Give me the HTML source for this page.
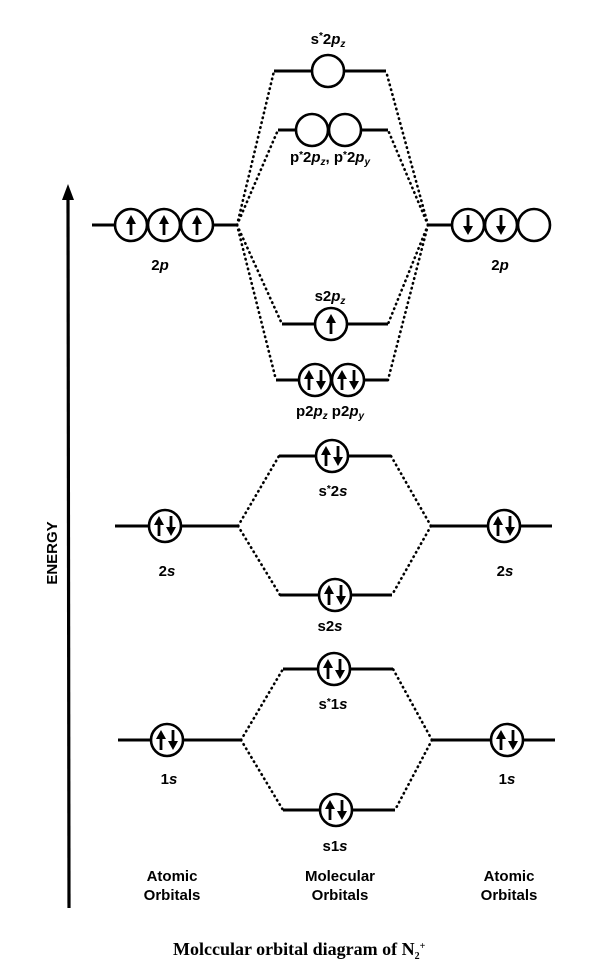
<!DOCTYPE html>
<html><head><meta charset="utf-8"><style>
html,body{margin:0;padding:0;background:#fff}
svg{display:block}
text{font-family:"Liberation Sans",sans-serif;font-weight:bold;font-size:15px;fill:#000}
.c{fill:#fff;stroke:#000;stroke-width:2.6}
.l{stroke:#000;stroke-width:3;fill:none}
.d{stroke:#000;stroke-width:2.6;stroke-dasharray:0.5 4.5;stroke-linecap:round;fill:none}
</style></head><body>
<svg width="601" height="978" viewBox="0 0 601 978">
<defs>
<g id="u"><path d="M0,10 V-4" stroke="#000" stroke-width="2.8"/><path d="M-5,-1 L0,-10 L5,-1Z" fill="#000"/></g>
<g id="dn"><path d="M0,-10 V4" stroke="#000" stroke-width="2.8"/><path d="M-5,1 L0,10 L5,1Z" fill="#000"/></g>
</defs>
<!-- axis -->
<line x1="68" y1="195" x2="69" y2="908" stroke="#000" stroke-width="3.2"/>
<path d="M62,200 L68,184 L74,200Z" fill="#000"/>
<text transform="translate(57,553) rotate(-90)" text-anchor="middle" font-size="14">ENERGY</text>

<path class="d" d="M237,225 L274,71 M237,225 L278,130 M237,225 L282,324 M237,225 L276,380"/>
<path class="d" d="M428,225 L386,71 M428,225 L388,130 M428,225 L388,324 M428,225 L388,380"/>
<path class="d" d="M238,526 L279,456 M238,526 L280,595 M431,526 L391,456 M431,526 L392,595"/>
<path class="d" d="M241,740 L283,669 M241,740 L283,810 M432,740 L393,669 M432,740 L395,810"/>

<line class="l" x1="92" y1="225" x2="237" y2="225"/>
<circle class="c" cx="131" cy="225" r="16"/><circle class="c" cx="164" cy="225" r="16"/><circle class="c" cx="197" cy="225" r="16"/>
<use href="#u" x="131" y="225"/><use href="#u" x="164" y="225"/><use href="#u" x="197" y="225"/>
<text x="160" y="270" text-anchor="middle">2<tspan font-style="italic">p</tspan></text>
<line class="l" x1="428" y1="225" x2="455" y2="225"/>
<circle class="c" cx="468" cy="225" r="16"/><circle class="c" cx="501" cy="225" r="16"/><circle class="c" cx="534" cy="225" r="16"/>
<use href="#dn" x="468" y="225"/><use href="#dn" x="501" y="225"/>
<text x="500" y="270" text-anchor="middle">2<tspan font-style="italic">p</tspan></text>

<line class="l" x1="274" y1="71" x2="386" y2="71"/>
<circle class="c" cx="328" cy="71" r="16"/>
<text x="328" y="44" text-anchor="middle">s<tspan dy="-5" font-size="10">*</tspan><tspan dy="5">2</tspan><tspan font-style="italic">p</tspan><tspan font-size="10" dy="3" font-style="italic">z</tspan></text>
<line class="l" x1="278" y1="130" x2="388" y2="130"/>
<circle class="c" cx="312" cy="130" r="16"/><circle class="c" cx="345" cy="130" r="16"/>
<text x="330" y="162" text-anchor="middle">p<tspan dy="-4" font-size="10">*</tspan><tspan dy="4">2</tspan><tspan font-style="italic">p</tspan><tspan font-size="10" dy="3" font-style="italic">z</tspan><tspan dy="-3">,  p</tspan><tspan dy="-4" font-size="10">*</tspan><tspan dy="4">2</tspan><tspan font-style="italic">p</tspan><tspan font-size="10" dy="3" font-style="italic">y</tspan></text>
<text x="330" y="301" text-anchor="middle">s2<tspan font-style="italic">p</tspan><tspan font-size="10" dy="3" font-style="italic">z</tspan></text>
<line class="l" x1="282" y1="324" x2="388" y2="324"/>
<circle class="c" cx="331" cy="324" r="16"/>
<use href="#u" x="331" y="324"/>
<line class="l" x1="276" y1="380" x2="388" y2="380"/>
<circle class="c" cx="315" cy="380" r="16"/><circle class="c" cx="348" cy="380" r="16"/>
<use href="#u" x="309" y="380"/><use href="#dn" x="321" y="380"/>
<use href="#u" x="342" y="380"/><use href="#dn" x="354" y="380"/>
<text x="330" y="416" text-anchor="middle">p2<tspan font-style="italic">p</tspan><tspan font-size="10" dy="3" font-style="italic">z</tspan><tspan dy="-3">   p2</tspan><tspan font-style="italic">p</tspan><tspan font-size="10" dy="3" font-style="italic">y</tspan></text>

<line class="l" x1="115" y1="526" x2="238" y2="526"/>
<circle class="c" cx="165" cy="526" r="16"/><use href="#u" x="159" y="526"/><use href="#dn" x="171" y="526"/>
<text x="167" y="576" text-anchor="middle">2<tspan font-style="italic">s</tspan></text>
<line class="l" x1="431" y1="526" x2="552" y2="526"/>
<circle class="c" cx="504" cy="526" r="16"/><use href="#u" x="498" y="526"/><use href="#dn" x="510" y="526"/>
<text x="505" y="576" text-anchor="middle">2<tspan font-style="italic">s</tspan></text>
<line class="l" x1="279" y1="456" x2="391" y2="456"/>
<circle class="c" cx="332" cy="456" r="16"/><use href="#u" x="326" y="456"/><use href="#dn" x="338" y="456"/>
<text x="333" y="496" text-anchor="middle">s<tspan dy="-4" font-size="10">*</tspan><tspan dy="4">2</tspan><tspan font-style="italic">s</tspan></text>
<line class="l" x1="280" y1="595" x2="392" y2="595"/>
<circle class="c" cx="335" cy="595" r="16"/><use href="#u" x="329" y="595"/><use href="#dn" x="341" y="595"/>
<text x="330" y="631" text-anchor="middle">s2<tspan font-style="italic">s</tspan></text>

<line class="l" x1="118" y1="740" x2="241" y2="740"/>
<circle class="c" cx="167" cy="740" r="16"/><use href="#u" x="161" y="740"/><use href="#dn" x="173" y="740"/>
<text x="169" y="784" text-anchor="middle">1<tspan font-style="italic">s</tspan></text>
<line class="l" x1="432" y1="740" x2="555" y2="740"/>
<circle class="c" cx="507" cy="740" r="16"/><use href="#u" x="501" y="740"/><use href="#dn" x="513" y="740"/>
<text x="507" y="784" text-anchor="middle">1<tspan font-style="italic">s</tspan></text>
<line class="l" x1="283" y1="669" x2="393" y2="669"/>
<circle class="c" cx="334" cy="669" r="16"/><use href="#u" x="328" y="669"/><use href="#dn" x="340" y="669"/>
<text x="333" y="709" text-anchor="middle">s<tspan dy="-4" font-size="10">*</tspan><tspan dy="4">1</tspan><tspan font-style="italic">s</tspan></text>
<line class="l" x1="283" y1="810" x2="395" y2="810"/>
<circle class="c" cx="336" cy="810" r="16"/><use href="#u" x="330" y="810"/><use href="#dn" x="342" y="810"/>
<text x="335" y="851" text-anchor="middle">s1<tspan font-style="italic">s</tspan></text>

<text x="172" y="881" text-anchor="middle" font-size="14">Atomic</text>
<text x="172" y="900" text-anchor="middle" font-size="14">Orbitals</text>
<text x="340" y="881" text-anchor="middle" font-size="14">Molecular</text>
<text x="340" y="900" text-anchor="middle" font-size="14">Orbitals</text>
<text x="509" y="881" text-anchor="middle" font-size="14">Atomic</text>
<text x="509" y="900" text-anchor="middle" font-size="14">Orbitals</text>
<text x="173" y="955" style="font-family:'Liberation Serif',serif;font-size:18px">Molccular orbital diagram of N<tspan font-size="10" dy="4">2</tspan><tspan font-size="10" dy="-10">+</tspan></text>
</svg>
</body></html>
